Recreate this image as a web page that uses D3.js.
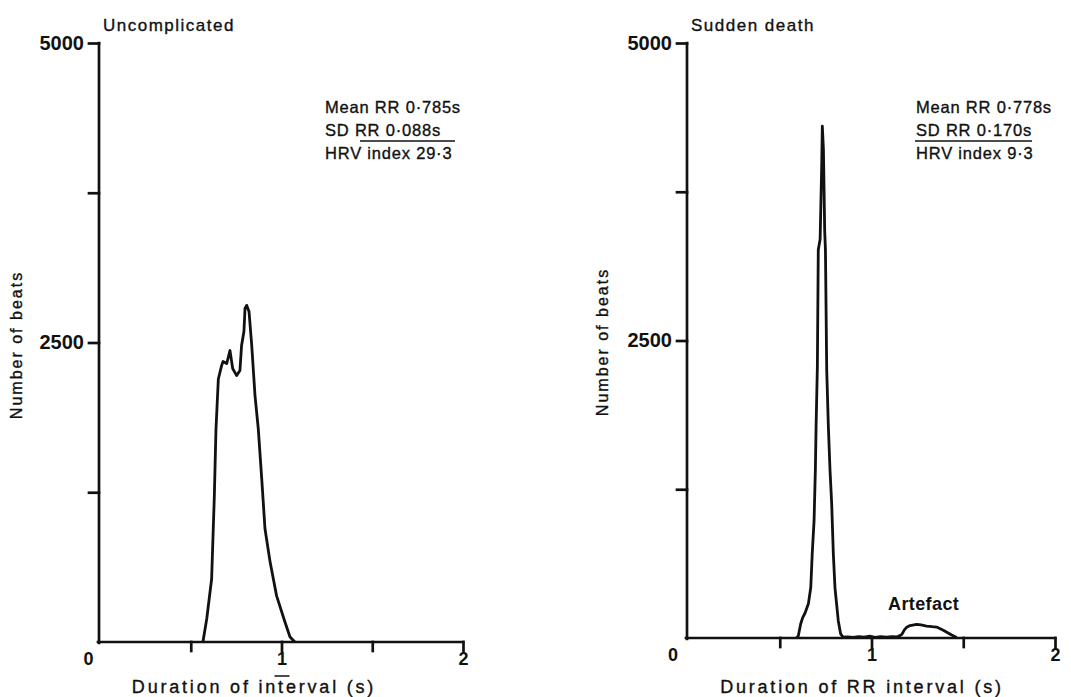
<!DOCTYPE html>
<html>
<head>
<meta charset="utf-8">
<script src="https://cdn.jsdelivr.net/npm/d3@7"></script>
<style>
body{margin:0;background:#fff;}
svg text{font-family:"Liberation Sans",Arial,sans-serif;fill:#111;}
svg text.ink{stroke:#111;stroke-width:0.35px;}
</style>
</head>
<body>
<script>
// RR interval histograms
var leftDur=[0.567,0.588,0.615,0.624,0.630,0.639,0.652,0.670,0.678,0.698,0.716,0.731,0.753,0.771,0.780,0.793,0.799,0.808,0.821,0.836,0.854,0.872,0.891,0.909,0.937,0.973,1.019,1.047,1.074];
var leftBeats=[0,192,526,943,1221,1778,2195,2307,2341,2324,2433,2283,2224,2266,2475,2592,2784,2810,2759,2475,2057,1781,1363,945,669,385,167,42,0];

var rightDur=[0.592,0.601,0.614,0.625,0.638,0.656,0.669,0.677,0.687,0.694,0.698,0.705,0.710,0.720,0.729,0.732,0.738,0.745,0.749,0.756,0.765,0.774,0.783,0.792,0.801,0.819,0.832,0.845,0.870,0.900,0.930,0.960,0.990,1.020,1.050,1.080,1.110,1.140,1.155,1.165,1.180,1.192,1.210,1.246,1.270,1.300,1.330,1.355,1.391,1.437,1.464];
var rightBeats=[0,17,118,171,210,287,424,708,986,1408,1773,2279,3262,3350,4000,4302,4105,3417,3262,2251,1773,1408,1130,708,422,143,34,8,10,5,12,8,15,6,12,8,12,10,20,30,70,90,105,115,110,100,95,92,65,25,5];

var yTicks=[1250,2500,3750,5000];
var yLabelled=[2500,5000];
var xTicks=[0,0.5,1,1.5,2];
var xLabelled=[0,1,2];

var titles=["Uncomplicated","Sudden death"];
var xTitles=["Duration of interval (s)","Duration of RR interval (s)"];
var yTitle="Number of beats";
var statsLeft=["Mean RR 0\u00b7785s","SD RR 0\u00b7088s","HRV index 29\u00b73"];
var statsRight=["Mean RR 0\u00b7778s","SD RR 0\u00b7170s","HRV index 9\u00b73"];

var svg=d3.select("body").append("svg").attr("width",1071).attr("height",697);

function panel(p){
	var x=d3.scaleLinear().domain([0,2]).range([p.x0,p.x1]);
	var y=d3.scaleLinear().domain([0,5000]).range([p.base,43]);
	var g=svg.append("g");

	// y axis
	var ya=g.append("g").attr("transform","translate("+(p.x0-1)+",0)")
		.call(d3.axisLeft(y).tickValues(yTicks).tickSize(10).tickSizeOuter(0).tickPadding(5)
			.tickFormat(function(d){return yLabelled.indexOf(d)>=0?d:"";}));
	ya.selectAll("text").style("font-size","20px").style("font-weight","bold").attr("fill","#111");

	// x axis
	var xa=g.append("g").attr("transform","translate(0,"+p.base+")")
		.call(d3.axisBottom(x).tickValues(xTicks).tickSize(9).tickSizeOuter(0).tickPadding(1)
			.tickFormat(function(d){return xLabelled.indexOf(d)>=0?d:"";}));
	xa.selectAll("text").style("font-size","18px").style("font-weight","bold").attr("fill","#111");
	xa.selectAll(".tick").filter(function(d){return d==0;}).select("line").remove();
	xa.selectAll(".tick").filter(function(d){return d==0;}).select("text").attr("x",p.zeroShift);

	g.selectAll(".domain,.tick line").attr("stroke","#111").attr("stroke-width",2.7).attr("stroke-linecap","square");
	ya.select(".domain").attr("d","M0,"+y(5000)+"V"+(p.base+1));
	xa.select(".domain").attr("d","M"+(p.x0-2)+",0H"+p.x1);

	// curve
	var line=d3.line().x(function(d){return x(d[0]);}).y(function(d){return y(d[1]);});
	g.append("path").datum(d3.zip(p.dur,p.beats))
		.attr("d",line).attr("fill","none").attr("stroke","#111")
		.attr("stroke-width",2.8).attr("stroke-linejoin","round");

	// labels
	g.append("text").attr("class","ink").attr("x",p.x0+3).attr("y",31).text(p.title)
		.style("font-size","17px").style("letter-spacing","1.5px");
	g.append("text").attr("class","ink").attr("x",p.xTitleX).attr("y",693).attr("text-anchor","middle").text(p.xTitle)
		.style("font-size","18px").style("letter-spacing","2.8px");
	g.append("text").attr("class","ink").attr("transform","translate("+p.yTitleX+","+p.yTitleY+") rotate(-90)")
		.attr("text-anchor","middle").text(yTitle)
		.style("font-size","16px").style("letter-spacing","2px");

	for (i=0; i<3; i++){
		g.append("text").attr("class","ink").attr("x",p.statX).attr("y",p.statY[i]).text(p.stats[i])
			.style("font-size","16.5px").style("letter-spacing","0.8px");
	}
	g.append("line").attr("x1",p.rule[0]).attr("x2",p.rule[1]).attr("y1",p.rule[2]).attr("y2",p.rule[2])
		.attr("stroke","#111").attr("stroke-width",1.6);
	return {g:g,x:x,y:y};
}

var L=panel({x0:100,x1:463,base:642,dur:leftDur,beats:leftBeats,zeroShift:-12,
	title:titles[0],xTitle:xTitles[0],xTitleX:254,yTitleX:22,yTitleY:345,
	stats:statsLeft,statX:325,statY:[113,136,159],rule:[360,455,141]});
var R=panel({x0:688,x1:1055,base:638,dur:rightDur,beats:rightBeats,zeroShift:-15.5,
	title:titles[1],xTitle:xTitles[1],xTitleX:862,yTitleX:608,yTitleY:342,
	stats:statsRight,statX:916,statY:[113,136,159],rule:[915,1032,141]});

// small stroke under the "1" on the left axis
L.g.append("line").attr("x1",L.x(1)-7).attr("x2",L.x(1)+8).attr("y1",676).attr("y2",676)
	.attr("stroke","#111").attr("stroke-width",1.5);

R.g.append("text").attr("x",R.x(1.09)).attr("y",610).text("Artefact")
	.style("font-size","18px").style("font-weight","bold").style("letter-spacing","0.4px");
</script>
</body>
</html>
